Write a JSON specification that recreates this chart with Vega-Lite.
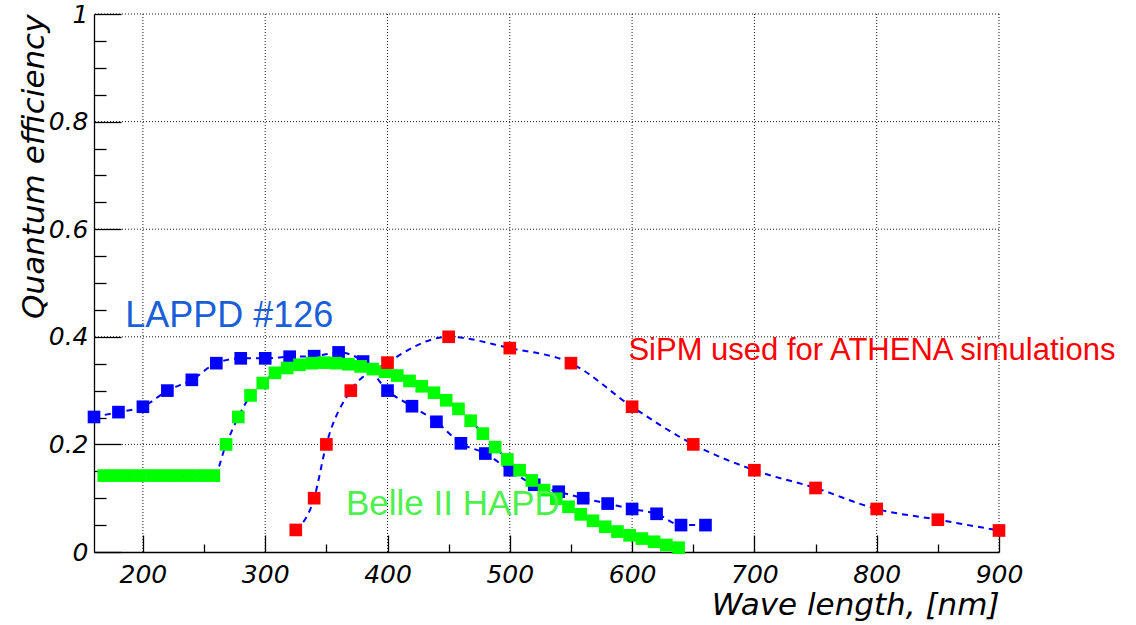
{
  "$schema": "https://vega.github.io/schema/vega-lite/v6.json",
  "width": 905,
  "height": 538,
  "autosize": "none",
  "padding": {"left": 94, "top": 14, "right": 137, "bottom": 73},
  "background": "white",
  "config": {
    "view": {"stroke": null},
    "axis": {
      "grid": false,
      "labelFont": "DejaVu Sans",
      "labelFontStyle": "italic",
      "labelFontSize": 25,
      "labelColor": "#000",
      "titleFont": "DejaVu Sans",
      "titleFontStyle": "italic",
      "titleFontWeight": "normal",
      "titleFontSize": 31,
      "titleColor": "#000",
      "domainColor": "#000",
      "domainWidth": 1.3,
      "tickColor": "#000",
      "tickWidth": 1.3,
      "labelFlush": false,
      "labelOverlap": false
    }
  },
  "resolve": {"axis": {"x": "independent", "y": "independent"}},
  "datasets": {
    "qe": [
      {"series": "LAPPD", "wl": 160, "qe": 0.251},
      {"series": "LAPPD", "wl": 180, "qe": 0.26},
      {"series": "LAPPD", "wl": 200, "qe": 0.27},
      {"series": "LAPPD", "wl": 220, "qe": 0.30},
      {"series": "LAPPD", "wl": 240, "qe": 0.32},
      {"series": "LAPPD", "wl": 260, "qe": 0.351},
      {"series": "LAPPD", "wl": 280, "qe": 0.36},
      {"series": "LAPPD", "wl": 300, "qe": 0.36},
      {"series": "LAPPD", "wl": 320, "qe": 0.363},
      {"series": "LAPPD", "wl": 340, "qe": 0.364},
      {"series": "LAPPD", "wl": 360, "qe": 0.371},
      {"series": "LAPPD", "wl": 380, "qe": 0.354},
      {"series": "LAPPD", "wl": 400, "qe": 0.30},
      {"series": "LAPPD", "wl": 420, "qe": 0.271},
      {"series": "LAPPD", "wl": 440, "qe": 0.242},
      {"series": "LAPPD", "wl": 460, "qe": 0.202},
      {"series": "LAPPD", "wl": 480, "qe": 0.183},
      {"series": "LAPPD", "wl": 500, "qe": 0.152},
      {"series": "LAPPD", "wl": 520, "qe": 0.125},
      {"series": "LAPPD", "wl": 540, "qe": 0.112},
      {"series": "LAPPD", "wl": 560, "qe": 0.10},
      {"series": "LAPPD", "wl": 580, "qe": 0.09},
      {"series": "LAPPD", "wl": 600, "qe": 0.08},
      {"series": "LAPPD", "wl": 620, "qe": 0.071},
      {"series": "LAPPD", "wl": 640, "qe": 0.05},
      {"series": "LAPPD", "wl": 660, "qe": 0.05},
      {"series": "HAPD", "wl": 168, "qe": 0.142},
      {"series": "HAPD", "wl": 178, "qe": 0.142},
      {"series": "HAPD", "wl": 188, "qe": 0.142},
      {"series": "HAPD", "wl": 198, "qe": 0.142},
      {"series": "HAPD", "wl": 208, "qe": 0.142},
      {"series": "HAPD", "wl": 218, "qe": 0.142},
      {"series": "HAPD", "wl": 228, "qe": 0.142},
      {"series": "HAPD", "wl": 238, "qe": 0.142},
      {"series": "HAPD", "wl": 248, "qe": 0.142},
      {"series": "HAPD", "wl": 258, "qe": 0.142},
      {"series": "HAPD", "wl": 268, "qe": 0.200},
      {"series": "HAPD", "wl": 278, "qe": 0.251},
      {"series": "HAPD", "wl": 288, "qe": 0.291},
      {"series": "HAPD", "wl": 298, "qe": 0.314},
      {"series": "HAPD", "wl": 308, "qe": 0.333},
      {"series": "HAPD", "wl": 318, "qe": 0.342},
      {"series": "HAPD", "wl": 328, "qe": 0.348},
      {"series": "HAPD", "wl": 338, "qe": 0.351},
      {"series": "HAPD", "wl": 348, "qe": 0.352},
      {"series": "HAPD", "wl": 358, "qe": 0.351},
      {"series": "HAPD", "wl": 368, "qe": 0.349},
      {"series": "HAPD", "wl": 378, "qe": 0.345},
      {"series": "HAPD", "wl": 388, "qe": 0.340},
      {"series": "HAPD", "wl": 398, "qe": 0.335},
      {"series": "HAPD", "wl": 408, "qe": 0.328},
      {"series": "HAPD", "wl": 418, "qe": 0.318},
      {"series": "HAPD", "wl": 428, "qe": 0.308},
      {"series": "HAPD", "wl": 438, "qe": 0.296},
      {"series": "HAPD", "wl": 448, "qe": 0.282},
      {"series": "HAPD", "wl": 458, "qe": 0.266},
      {"series": "HAPD", "wl": 468, "qe": 0.244},
      {"series": "HAPD", "wl": 478, "qe": 0.220},
      {"series": "HAPD", "wl": 488, "qe": 0.195},
      {"series": "HAPD", "wl": 498, "qe": 0.172},
      {"series": "HAPD", "wl": 508, "qe": 0.152},
      {"series": "HAPD", "wl": 518, "qe": 0.133},
      {"series": "HAPD", "wl": 528, "qe": 0.115},
      {"series": "HAPD", "wl": 538, "qe": 0.099},
      {"series": "HAPD", "wl": 548, "qe": 0.084},
      {"series": "HAPD", "wl": 558, "qe": 0.070},
      {"series": "HAPD", "wl": 568, "qe": 0.058},
      {"series": "HAPD", "wl": 578, "qe": 0.047},
      {"series": "HAPD", "wl": 588, "qe": 0.038},
      {"series": "HAPD", "wl": 598, "qe": 0.031},
      {"series": "HAPD", "wl": 608, "qe": 0.025},
      {"series": "HAPD", "wl": 618, "qe": 0.019},
      {"series": "HAPD", "wl": 628, "qe": 0.013},
      {"series": "HAPD", "wl": 638, "qe": 0.008},
      {"series": "SiPM", "wl": 325, "qe": 0.041},
      {"series": "SiPM", "wl": 340, "qe": 0.10},
      {"series": "SiPM", "wl": 350, "qe": 0.20},
      {"series": "SiPM", "wl": 370, "qe": 0.30},
      {"series": "SiPM", "wl": 400, "qe": 0.352},
      {"series": "SiPM", "wl": 450, "qe": 0.40},
      {"series": "SiPM", "wl": 500, "qe": 0.379},
      {"series": "SiPM", "wl": 550, "qe": 0.351},
      {"series": "SiPM", "wl": 600, "qe": 0.27},
      {"series": "SiPM", "wl": 650, "qe": 0.20},
      {"series": "SiPM", "wl": 700, "qe": 0.152},
      {"series": "SiPM", "wl": 750, "qe": 0.119},
      {"series": "SiPM", "wl": 800, "qe": 0.08},
      {"series": "SiPM", "wl": 850, "qe": 0.06},
      {"series": "SiPM", "wl": 900, "qe": 0.04}
    ]
  },
  "data": {"name": "qe"},
  "layer": [
    {
      "data": {"values": [{"g": 200}, {"g": 300}, {"g": 400}, {"g": 500}, {"g": 600}, {"g": 700}, {"g": 800}, {"g": 900}]},
      "mark": {"type": "rule", "color": "#000", "strokeWidth": 1, "strokeDash": [1, 2], "opacity": 0.9},
      "encoding": {
        "x": {"field": "g", "type": "quantitative", "axis": null}
      }
    },
    {
      "data": {"values": [{"h": 0.2}, {"h": 0.4}, {"h": 0.6}, {"h": 0.8}, {"h": 1}]},
      "mark": {"type": "rule", "color": "#000", "strokeWidth": 1, "strokeDash": [1, 2], "opacity": 0.9},
      "encoding": {
        "y": {"field": "h", "type": "quantitative", "axis": null}
      }
    },
    {
      "mark": {"type": "line", "color": "#0000ff", "strokeWidth": 2, "strokeDash": [6, 5], "interpolate": "monotone"},
      "encoding": {
        "detail": {"field": "series"},
        "x": {
          "field": "wl", "type": "quantitative",
          "scale": {"domain": [160, 900], "nice": false, "zero": false},
          "axis": {
            "orient": "bottom",
            "values": [200, 250, 300, 350, 400, 450, 500, 550, 600, 650, 700, 750, 800, 850, 900],
            "tickCount": 100,
            "format": "d",
            "labelExpr": "datum.value % 100 === 0 ? datum.label : ''",
            "tickSize": {"condition": {"test": "datum.value % 100 === 0", "value": -17}, "value": -8},
            "labelPadding": 47.5,
            "labelBaseline": "alphabetic",
            "grid": false,
            "title": "Wave length, [nm]",
            "titleAnchor": "end", "titleAlign": "right", "titleBaseline": "alphabetic", "titleY": 62
          }
        },
        "y": {
          "field": "qe", "type": "quantitative",
          "scale": {"domain": [0, 1], "nice": false},
          "axis": {
            "orient": "left",
            "values": [0, 0.05, 0.1, 0.15, 0.2, 0.25, 0.3, 0.35, 0.4, 0.45, 0.5, 0.55, 0.6, 0.65, 0.7, 0.75, 0.8, 0.85, 0.9, 0.95, 1],
            "tickCount": 100,
            "format": "~g",
            "labelExpr": "abs(datum.value * 5 - round(datum.value * 5)) < 0.000001 ? datum.label : ''",
            "tickSize": {"condition": {"test": "abs(datum.value * 5 - round(datum.value * 5)) < 0.000001", "value": -27}, "value": -12},
            "labelPadding": 33,
            "labelBaseline": "middle",
            "grid": false,
            "title": "Quantum efficiency",
            "titleAnchor": "end", "titleAngle": -90, "titleAlign": "right", "titleBaseline": "alphabetic", "titleX": -51
          }
        }
      }
    },
    {
      "mark": {"type": "point", "shape": "square", "filled": true, "size": 160, "opacity": 1, "strokeWidth": 0},
      "encoding": {
        "x": {"field": "wl", "type": "quantitative", "axis": null},
        "y": {"field": "qe", "type": "quantitative", "axis": null},
        "color": {
          "field": "series", "type": "nominal",
          "scale": {"domain": ["LAPPD", "HAPD", "SiPM"], "range": ["#0000ff", "#00ff00", "#ff0000"]},
          "legend": null
        }
      }
    },
    {
      "data": {"values": [{"label": "LAPPD #126"}]},
      "mark": {"type": "text", "font": "Liberation Sans", "fontSize": 36, "color": "#1a5fd8", "align": "left", "baseline": "alphabetic"},
      "encoding": {
        "x": {"datum": 185.5, "type": "quantitative", "axis": null},
        "y": {"datum": 0.419, "type": "quantitative", "axis": null},
        "text": {"field": "label"}
      }
    },
    {
      "data": {"values": [{"label": "SiPM used for ATHENA simulations"}]},
      "mark": {"type": "text", "font": "Liberation Sans", "fontSize": 31, "color": "#ff0000", "align": "left", "baseline": "alphabetic"},
      "encoding": {
        "x": {"datum": 597, "type": "quantitative", "axis": null},
        "y": {"datum": 0.357, "type": "quantitative", "axis": null},
        "text": {"field": "label"}
      }
    },
    {
      "data": {"values": [{"label": "Belle II HAPD"}]},
      "mark": {"type": "text", "font": "Liberation Sans", "fontSize": 35, "color": "#4df04d", "align": "left", "baseline": "alphabetic"},
      "encoding": {
        "x": {"datum": 366, "type": "quantitative", "axis": null},
        "y": {"datum": 0.069, "type": "quantitative", "axis": null},
        "text": {"field": "label"}
      }
    }
  ]
}
